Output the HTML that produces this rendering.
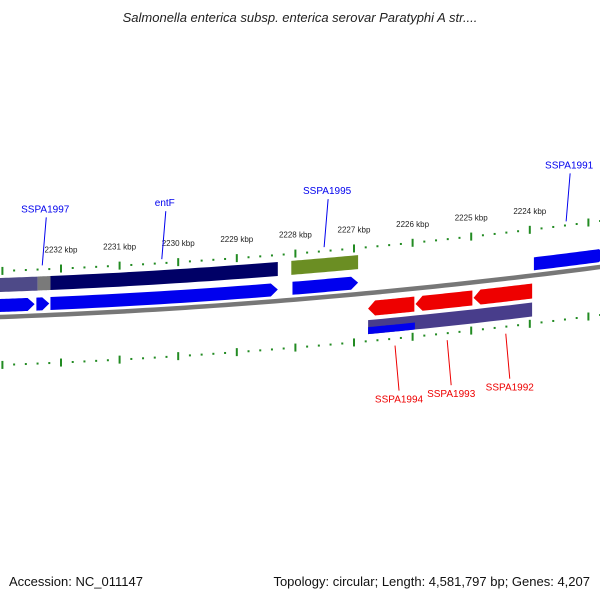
<!DOCTYPE html>
<html><head><meta charset="utf-8">
<style>
body{margin:0;background:#fff;width:600px;height:600px;overflow:hidden;font-family:"Liberation Sans",sans-serif}
svg{position:absolute;left:0;top:0}
</style></head>
<body>
<svg id="map" width="600" height="600" viewBox="0 0 600 600" xmlns="http://www.w3.org/2000/svg">
<text x="300" y="22" text-anchor="middle" font-style="italic" font-size="13" fill="#222">Salmonella enterica subsp. enterica serovar Paratyphi A str....</text>
<text x="9" y="586" font-size="13" fill="#111">Accession: NC_011147</text>
<text x="590" y="586" text-anchor="end" font-size="13" fill="#111">Topology: circular; Length: 4,581,797 bp; Genes: 4,207</text>
<g id="layer"></g>
</svg>
<script>
// data arrays
const tickKbp = [2232, 2231, 2230, 2229, 2228, 2227, 2226, 2225, 2224];
const fwdGenes = [[2233.3, 2232.45], [2232.42, 2232.2], [2232.18, 2228.3], [2228.05, 2226.93], [2223.93, 2222.7]];
const fwdHits = [[2233.3, 2232.4, '#4e4a88'], [2232.4, 2232.18, '#7a7a7a'], [2232.18, 2228.3, '#000066'], [2228.07, 2226.93, '#6b8e23']];
const revGenes = [[2226.76, 2225.97], [2225.95, 2224.98], [2224.96, 2223.96]];
const revHits = [[2226.76, 2223.96, '#483d8b']];
const revBlue = [[2226.76, 2225.96]];
const fwdLabels = [['SSPA1997', 2232.32], ['entF', 2230.28], ['SSPA1995', 2227.51], ['SSPA1991', 2223.38]];
const revLabels = [['SSPA1994', 2226.3], ['SSPA1993', 2225.41], ['SSPA1992', 2224.41]];

const NS = 'http://www.w3.org/2000/svg';
const layer = document.getElementById('layer');
function X(kbp){ return 61 + (2232 - kbp) * 58.6; }
function base(x){ return 315 - 0.0355*x - 7.97e-5*x*x; }
function mk(tag, attrs){ const e = document.createElementNS(NS, tag); for (const k in attrs) e.setAttribute(k, attrs[k]); layer.appendChild(e); return e; }
function band(x1, x2, o1, o2){
  let pts = [];
  for (let i=0;i<=20;i++){ const x = x1+(x2-x1)*i/20; pts.push(x.toFixed(1)+','+(base(x)+o1).toFixed(1)); }
  for (let i=20;i>=0;i--){ const x = x1+(x2-x1)*i/20; pts.push(x.toFixed(1)+','+(base(x)+o2).toFixed(1)); }
  return pts.join(' ');
}
function arrow(x1, x2, o1, o2, dir){
  const head = 7, mid = (o1+o2)/2;
  let pts = [];
  if (dir>0){
    const xe = x2-head;
    for (let i=0;i<=20;i++){ const x = x1+(xe-x1)*i/20; pts.push(x+','+(base(x)+o1)); }
    pts.push(x2+','+(base(x2)+mid));
    for (let i=20;i>=0;i--){ const x = x1+(xe-x1)*i/20; pts.push(x+','+(base(x)+o2)); }
  } else {
    const xs = x1+head;
    pts.push(x1+','+(base(x1)+mid));
    for (let i=0;i<=20;i++){ const x = xs+(x2-xs)*i/20; pts.push(x+','+(base(x)+o1)); }
    for (let i=20;i>=0;i--){ const x = xs+(x2-xs)*i/20; pts.push(x+','+(base(x)+o2)); }
  }
  return pts.join(' ');
}
let bp = [];
for (let x=-5;x<=605;x+=10) bp.push((x===-5?'M':'L')+x+','+(base(x)+2));
let bb = mk('path', {d: bp.join(' '), stroke:'#777', 'stroke-width':4.5, fill:'none'});


for (let k=2233.2; k>=2222.6; k-=0.2){
  const kr = Math.round(k*10)/10, x = X(kr);
  if (x<-2||x>602) continue;
  const major = Math.abs(kr-Math.round(kr))<0.01;
  for (const [o, nm] of [[-44,'outer'],[50,'inner']]){
    const y = base(x)+o;
    const t = mk('line', {x1:x, x2:x, y1: y-(major?4:1), y2: y+(major?4:1), stroke:'#228b22', 'stroke-width':2});
    
    
  }
}
tickKbp.forEach(k => {
  const x = X(k);
  const t = mk('text', {x:x, y: base(x)-60, 'text-anchor':'middle', 'font-size':8, fill:'#222'});
  t.textContent = k+' kbp';
  
  
});
fwdHits.forEach(h => {
  const p = mk('polygon', {points: band(X(h[0]), X(h[1]), -37, -23), fill:h[2]});
  
  
});
fwdGenes.forEach(g => {
  const p = mk('polygon', {points: arrow(X(g[0]), X(g[1]), -16, -3, 1), fill:'#0000ee'});
  
  
});
revGenes.forEach(g => {
  const p = mk('polygon', {points: arrow(X(g[0]), X(g[1]), 10, 25, -1), fill:'#ee0000'});
  
  
});
revHits.forEach(h => {
  const p = mk('polygon', {points: band(X(h[0]), X(h[1]), 29, 43), fill:h[2]});
  
  
});
revBlue.forEach(h => {
  const p = mk('polygon', {points: band(X(h[0]), X(h[1]), 36, 43), fill:'#0000ee'});
  
  
});
fwdLabels.forEach(l => {
  const x = X(l[1]), y = base(x)-48;
  const ln = mk('line', {x1:x, y1:y, x2:x+4, y2:y-48, stroke:'#0000ee', 'stroke-width':1});
  
  
  const t = mk('text', {x:x+3, y:y-53, 'text-anchor':'middle', 'font-size':10, fill:'#0000ee'});
  t.textContent = l[0];
  
  
});
revLabels.forEach(l => {
  const x = X(l[1]), y = base(x)+57;
  const ln = mk('line', {x1:x, y1:y, x2:x+4, y2:y+45, stroke:'#ee0000', 'stroke-width':1});
  
  
  const t = mk('text', {x:x+4, y:y+57, 'text-anchor':'middle', 'font-size':10, fill:'#ee0000'});
  t.textContent = l[0];
  
  
});
</script>
</body></html>
